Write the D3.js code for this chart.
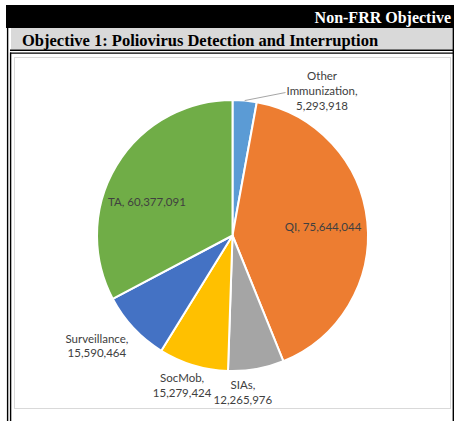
<!DOCTYPE html>
<html><head><meta charset="utf-8">
<script src="https://cdn.jsdelivr.net/npm/d3@7/dist/d3.min.js"></script>
<style>html,body{margin:0;padding:0;background:#fff;}svg{display:block;}</style>
</head><body>
<script>
const categories = ["Other Immunization", "QI", "SIAs", "SocMob", "Surveillance", "TA"];
const values = [5293918, 75644044, 12265976, 15279424, 15590464, 60377091];
const colors = ["#5B9BD5", "#ED7D31", "#A5A5A5", "#FFC000", "#4472C4", "#70AD47"];
const headerText = "Non-FRR Objective";
const sectionTitle = "Objective 1: Poliovirus Detection and Interruption";
// label placement: polar (degrees clockwise from top, radius px) and line split
const labelAngles = [31.8, 84.6, 176.2, 198.6, 230.8, 291.4];
const labelRadii = [170, 91, 157, 158, 175, 92];
const labelSplit = ["multi3", "inline", "multi", "multi", "multi", "inline"];

const W = 454, H = 421;
const svg = d3.select("body").append("svg").attr("width", W).attr("height", H);
svg.append("rect").attr("width", W).attr("height", H).attr("fill", "#fff");

// header black band
svg.append("rect").attr("x", 6).attr("y", 5).attr("width", W - 6).attr("height", 23).attr("fill", "#000");
svg.append("text").attr("x", 451).attr("y", 23).attr("text-anchor", "end")
  .attr("font-family", "Liberation Serif").attr("font-weight", "bold").attr("font-size", 16)
  .attr("fill", "#fff").text(headerText);

// gray title bar
svg.append("rect").attr("x", 11).attr("y", 28).attr("width", 441.5).attr("height", 21.5).attr("fill", "#d9d9d9");
svg.append("text").attr("x", 22).attr("y", 45.5)
  .attr("font-family", "Liberation Serif").attr("font-weight", "bold").attr("font-size", 16.5)
  .attr("fill", "#000").text(sectionTitle);

// borders
const blk = (x1, y1, x2, y2, w) => svg.append("line").attr("x1", x1).attr("y1", y1).attr("x2", x2).attr("y2", y2)
  .attr("stroke", "#000").attr("stroke-width", w);
blk(7.6, 28, 7.6, H, 1.4);
blk(10.6, 52.5, 10.6, H, 1.4);
blk(10, 50.3, W, 50.3, 1.4);
blk(10, 53.2, W, 53.2, 1.2);
blk(453.3, 28, 453.3, H, 1.4);

// chart area border
svg.append("rect").attr("x", 14.5).attr("y", 57.5).attr("width", 436).attr("height", 351)
  .attr("fill", "none").attr("stroke", "#d9d9d9").attr("stroke-width", 1);

// pie
const cx = 232.5, cy = 235.5, R = 135.5;
const data = categories.map((c, i) => ({ name: c, value: values[i], color: colors[i], i }));
const pie = d3.pie().value(d => d.value).sort(null);
const arcs = pie(data);
const arc = d3.arc().innerRadius(0).outerRadius(R);
const g = svg.append("g").attr("transform", `translate(${cx},${cy})`);
g.selectAll("path").data(arcs).join("path")
  .attr("d", arc).attr("fill", d => d.data.color)
  .attr("stroke", "#fff").attr("stroke-width", 2).attr("stroke-linejoin", "round");

// labels
const fmt = d3.format(",");
const fontFam = "Lato, 'Open Sans', sans-serif";
arcs.forEach((a, i) => {
  const ang = labelAngles[i] * Math.PI / 180;
  const lx = Math.sin(ang) * labelRadii[i];
  const ly = -Math.cos(ang) * labelRadii[i];
  const name = a.data.name, val = fmt(a.data.value);
  let lines;
  if (labelSplit[i] === "inline") lines = [name + ", " + val];
  else if (labelSplit[i] === "multi3") { const p = name.split(" "); lines = [p[0], p[1] + ",", val]; }
  else lines = [name + ",", val];
  const lh = 14.7;
  const t = g.append("text").attr("text-anchor", "middle").attr("font-family", fontFam)
    .attr("font-size", 11.5).attr("fill", "#404040");
  lines.forEach((ln, k) => {
    t.append("tspan").attr("x", lx).attr("y", ly + (k - (lines.length - 1) / 2) * lh)
      .attr("dy", "0.35em").text(ln);
  });
  if (labelSplit[i] === "multi3") {
    const mid = (a.startAngle + a.endAngle) / 2;
    const sx = Math.sin(mid) * R, sy = -Math.cos(mid) * R;
    const bb = t.node().getBBox();
    g.append("line").attr("x1", sx).attr("y1", sy).attr("x2", bb.x - 1).attr("y2", ly + 1.5)
      .attr("stroke", "#a6a6a6").attr("stroke-width", 1);
  }
});
</script>
</body></html>
